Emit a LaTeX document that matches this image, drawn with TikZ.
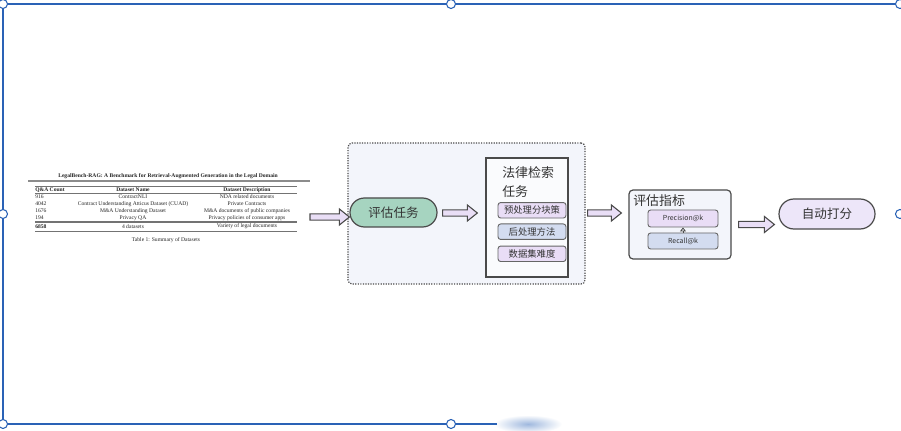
\documentclass[tikz,border=0pt]{standalone}
\usepackage{fontspec}
\newfontfamily\cjk{Noto Sans CJK SC}
\newfontfamily\tabfont{Liberation Serif}
\usetikzlibrary{calc,arrows.meta,shapes.misc}
\definecolor{framecol}{HTML}{2A62B6}
\definecolor{lineg}{HTML}{4A4A4A}
\definecolor{txtc}{HTML}{333333}
\definecolor{arrfill}{HTML}{E9DEF6}
\definecolor{contfill}{HTML}{F3F5FB}
\definecolor{greenfill}{HTML}{A6D4C0}
\definecolor{purpfill}{HTML}{E9DDF6}
\definecolor{bluefill}{HTML}{D3DCF0}
\definecolor{scorefill}{HTML}{EDE6F9}
\tikzset{
  tabtxt/.style={font=\tabfont\fontsize{4.2}{5}\selectfont, inner sep=0pt, text=black!85},
  tabbold/.style={font=\tabfont\bfseries\fontsize{4.2}{5}\selectfont, inner sep=0pt, text=black!85},
  tabrule/.style={draw=black!55, line width=0.35pt},
  tabthick/.style={draw=black!55, line width=1.1pt},
  blockarrow/.style={draw=lineg, fill=arrfill, line width=0.8pt, line join=miter,
    to path={let \p1=(\tikztostart), \p2=(\tikztotarget) in
      (\x1,\y1+2.4pt) -- (\x2-7.5pt,\y1+2.4pt) -- (\x2-7.5pt,\y1+6pt) -- (\x2,\y1)
      -- (\x2-7.5pt,\y1-6pt) -- (\x2-7.5pt,\y1-2.4pt) -- (\x1,\y1-2.4pt) -- cycle}},
  stadium/.style={rounded rectangle, draw=lineg, line width=0.9pt, text=txtc,
    font=\cjk\fontsize{9.4}{11}\selectfont, inner sep=0pt},
  subbox/.style={draw=black!60, line width=0.7pt, rounded corners=2pt, inner sep=0pt,
    minimum width=51pt, minimum height=11.6pt, text=txtc, font=\cjk\fontsize{7}{8}\selectfont},
  metbox/.style={draw=black!60, line width=0.7pt, rounded corners=2pt, inner sep=0pt,
    minimum width=52.5pt, text=txtc, font=\cjk\fontsize{5.2}{6}\selectfont},
  handle/.style={draw=framecol, fill=white, line width=0.8pt},
  titletxt/.style={text=txtc, font=\cjk\fontsize{9.7}{11}\selectfont, inner sep=0pt},
}
\begin{document}
\begin{tikzpicture}[x=0.75pt,y=-0.75pt]
\useasboundingbox (0,0) rectangle (901,431);
\fill[white] (0,0) rectangle (901,431);

% ---------- table picture ----------
\node[tabbold] (tabtitle) at (168,176) {LegalBench-RAG: A Benchmark for Retrieval-Augmented Generation in the Legal Domain};
\draw[draw=black!45, line width=1.1pt] (28,181) -- (310,181);
\draw[tabrule] (35,186.5) -- (297,186.5);
\node[tabbold, anchor=west] (hA) at (35,190) {Q\&A Count};
\node[tabbold] (hB) at (133,190) {Dataset Name};
\node[tabbold] (hC) at (247,190) {Dataset Description};
\draw[tabrule] (35,193.2) -- (297,193.2);
\foreach \yy/\a/\b/\c [count=\i] in {
  197/916/ContractNLI/NDA related documents,
  204/4042/Contract Understanding Atticus Dataset (CUAD)/Private Contracts,
  211/1676/M\&A Understanding Dataset/M\&A documents of public companies,
  218/194/Privacy QA/Privacy policies of consumer apps}{
  \node[tabtxt, anchor=west] (ra\i) at (35,\yy) {\a};
  \node[tabtxt] (rb\i) at (133,\yy) {\b};
  \node[tabtxt] (rc\i) at (247,\yy) {\c};
}
\draw[tabthick] (35,222) -- (297,222);
\node[tabbold, anchor=west] (tA) at (35,226.5) {6858};
\node[tabtxt] (tB) at (133,226.5) {4 datasets};
\node[tabtxt] (tC) at (247,226.5) {Variety of legal documents};
\draw[tabrule] (35,231.2) -- (297,231.2);
\node[tabtxt] (tabcap) at (166,240.5) {Table 1: Summary of Datasets};
\coordinate (tabarrow) at (310,217);

% ---------- container ----------
\node[draw=black!70, densely dotted, line width=0.9pt, fill=contfill, rounded corners=3pt,
      minimum width=177.75pt, minimum height=105.75pt, inner sep=0pt] (cont) at (466.5,213.5) {};
\node[stadium, fill=greenfill, minimum width=65.25pt, minimum height=21.75pt] (task) at (393.5,212.5) {评估任务};

\node[draw=lineg, line width=1pt, fill=white!60!contfill, minimum width=61.5pt,
      minimum height=89.25pt, inner sep=0pt] (law) at (527,217.5) {};
\node[titletxt, anchor=west] (lawt1) at (502,173) {法律检索};
\node[titletxt, anchor=west] (lawt2) at (502,192) {任务};
\node[subbox, fill=purpfill] (s1) at (532,210.3) {预处理分块策};
\node[subbox, fill=bluefill] (s2) at (532,231.7) {后处理方法};
\node[subbox, fill=purpfill] (s3) at (532,253.8) {数据集难度};

% ---------- metrics ----------
\node[draw=lineg, line width=0.9pt, fill=contfill, rounded corners=3pt, minimum width=76.5pt,
      minimum height=51.75pt, inner sep=0pt] (met) at (680,224.5) {};
\node[titletxt, anchor=west] (mett) at (633,201) {评估指标};
\node[metbox, fill=purpfill, minimum height=12.75pt] (prec) at (683,218.5) {Precision@k};
\node[metbox, fill=bluefill, minimum height=12pt] (rec) at (683,241) {Recall@k};
\draw[draw=lineg, line width=0.6pt, -{Triangle[open,length=3pt,width=4.5pt]}] (rec.north) -- (prec.south);

% ---------- score ----------
\node[stadium, fill=scorefill, minimum width=72pt, minimum height=22.5pt] (score) at (827,214) {自动打分};

% ---------- block arrows ----------
\draw[blockarrow] (tabarrow) to (task.west);
\draw[blockarrow] ($(task.east)+(5,0.5)$) to ($(law.west)+(-8,0)$);
\draw[blockarrow] ($(cont.east)+(2,-0.5)$) to ($(met.west)+(-7,0)$);
\draw[blockarrow] ($(met.east)+(7,0)$ |- score.east) to ($(score.west)+(-4,0)$);

% ---------- selection frame ----------
\shade[inner color=framecol!45, outer color=white] (528,424) ellipse (34 and 9);
\draw[framecol, line width=1.1pt] (497,424) -- (3,424) -- (3,4) -- (900,4);
\foreach \hx/\hy [count=\k] in {3/4,451/4,900/4,3/214,900/214,3/424,451/424}{
  \draw[handle] (\hx,\hy) coordinate (h\k) circle (4.5);
}
\end{tikzpicture}
\end{document}
